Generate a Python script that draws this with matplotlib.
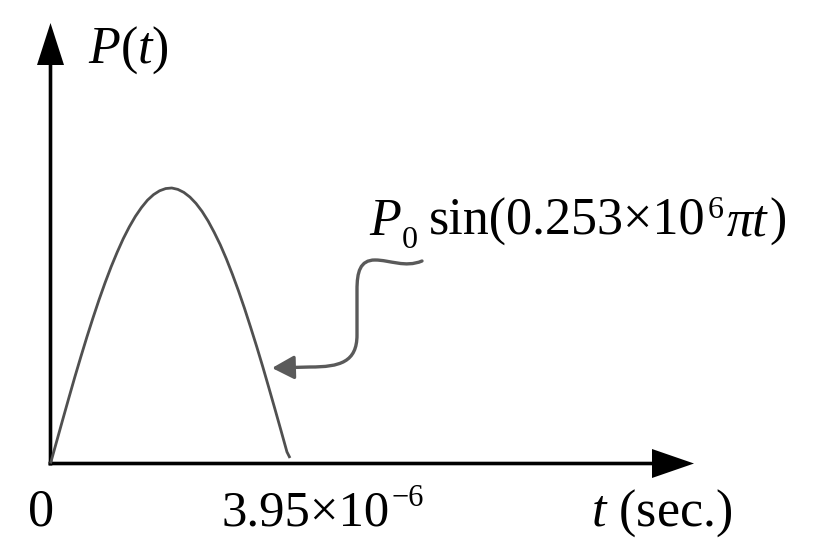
import matplotlib
matplotlib.use("Agg")
import matplotlib.pyplot as plt
from matplotlib.patches import FancyArrowPatch
from matplotlib.path import Path

plt.rcParams['mathtext.fontset'] = 'custom'
plt.rcParams['mathtext.rm'] = 'Liberation Serif'
plt.rcParams['mathtext.it'] = 'Liberation Serif:italic'
plt.rcParams['mathtext.bf'] = 'Liberation Serif:bold'
plt.rcParams['font.family'] = ['Liberation Serif', 'DejaVu Serif']

# ---- data ----
t_us = [0.0, 0.1, 0.2, 0.3, 0.4, 0.5, 0.6, 0.7, 0.8, 0.9, 1.0,
        1.1, 1.2, 1.3, 1.4, 1.5, 1.6, 1.7, 1.8, 1.9, 2.0,
        2.1, 2.2, 2.3, 2.4, 2.5, 2.6, 2.7, 2.8, 2.9, 3.0,
        3.1, 3.2, 3.3, 3.4, 3.5, 3.6, 3.7, 3.8, 3.9, 3.95]
p_rel = [0.0, 0.079, 0.158, 0.236, 0.313, 0.387, 0.459, 0.528, 0.594, 0.656, 0.714,
         0.767, 0.816, 0.859, 0.897, 0.929, 0.956, 0.976, 0.990, 0.998, 1.0,
         0.995, 0.984, 0.967, 0.944, 0.915, 0.880, 0.839, 0.794, 0.743, 0.687,
         0.627, 0.563, 0.495, 0.425, 0.352, 0.276, 0.199, 0.121, 0.042, 0.02]
t_end_base, t_end_exp = "3.95×10", "−6"
origin_label = "0"
x_label = "$t$ (sec.)"
y_label = "$P$($t$)"
curve_parts = ["P", "0", "sin(0.253×10", "6", "πt", ")"]

W, H = 814, 557
fig = plt.figure(figsize=(W / 100, H / 100), dpi=100)
ax = fig.add_axes([0, 0, 1, 1])
ax.set_axis_off()

# pixel layout of the axes
X0, SX = 50.5, 60.63     # x pixel of t=0, pixels per microsecond
Y0, SY = 463.5, 275.5    # y pixel (from top) of P=0, pixels per unit P
ax.set_xlim(-X0 / SX, (W - X0) / SX)
ax.set_ylim((Y0 - H) / SY, Y0 / SY)


def px(x, y):
    return ((x - X0) / SX, (Y0 - y) / SY)


# axes with arrows
lw_px = 3.6
x_tip = px(694, Y0)[0]
y_tip = px(X0, 23)[1]
ax.arrow(-2 / SX, 0, x_tip + 2 / SX, 0, width=lw_px / SY, head_width=29 / SY,
         head_length=42 / SX, length_includes_head=True, color='black', lw=0)
ax.arrow(0, -2 / SY, 0, y_tip + 2 / SY, width=lw_px / SX, head_width=27 / SX,
         head_length=42 / SY, length_includes_head=True, color='black', lw=0)

# the curve
ax.plot(t_us, p_rel, color='#505050', lw=2.0, solid_capstyle='butt',
        solid_joinstyle='round')

# wavy annotation arrow
pts_px = [(422, 261),
          (405, 268), (390, 260), (375, 260),
          (360, 260), (357, 272), (357, 290),
          (357, 335),
          (357, 362), (340, 367), (310, 367),
          (272, 368)]
codes = [Path.MOVETO,
         Path.CURVE4, Path.CURVE4, Path.CURVE4,
         Path.CURVE4, Path.CURVE4, Path.CURVE4,
         Path.LINETO,
         Path.CURVE4, Path.CURVE4, Path.CURVE4,
         Path.LINETO]
path = Path([px(*p) for p in pts_px], codes)
arr = FancyArrowPatch(path=path, arrowstyle='-|>,head_length=1.35,head_width=0.72',
                      mutation_scale=10, color='#5a5a5a', lw=2.4,
                      capstyle='round', joinstyle='round')
ax.add_patch(arr)

renderer = fig.canvas.get_renderer()


def place_seq(x0, y0, pieces):
    """pieces: (text, size, style, raise_px, gap_px_before)"""
    x = x0
    for s, size, style, dy, gap in pieces:
        x += gap
        t = ax.text(*px(x, y0 - dy), s, fontsize=size, fontstyle=style,
                    ha='left', va='baseline')
        x += t.get_window_extent(renderer).width
    return x


fs = 37.5
fs_tick = 36.5
ax.text(*px(88, 63), y_label, fontsize=fs, ha='left', va='baseline')
ax.text(*px(41.5, 525), origin_label, fontsize=fs, ha='center', va='baseline')
ax.text(*px(591, 526), x_label, fontsize=fs, ha='left', va='baseline')

place_seq(222, 525, [(t_end_base, fs_tick, 'normal', 0, 0),
                     (t_end_exp, 22, 'normal', 19, 1)])

sub = 23
place_seq(369, 235, [(curve_parts[0], fs, 'italic', 0, 0),
                     (curve_parts[1], sub, 'normal', -13, 1),
                     (curve_parts[2], fs, 'normal', 0, 11),
                     (curve_parts[3], sub, 'normal', 17, 2),
                     (curve_parts[4], fs, 'italic', 0, 3),
                     (curve_parts[5], fs, 'normal', 0, 2)])

fig.savefig("out.png", dpi=100)
